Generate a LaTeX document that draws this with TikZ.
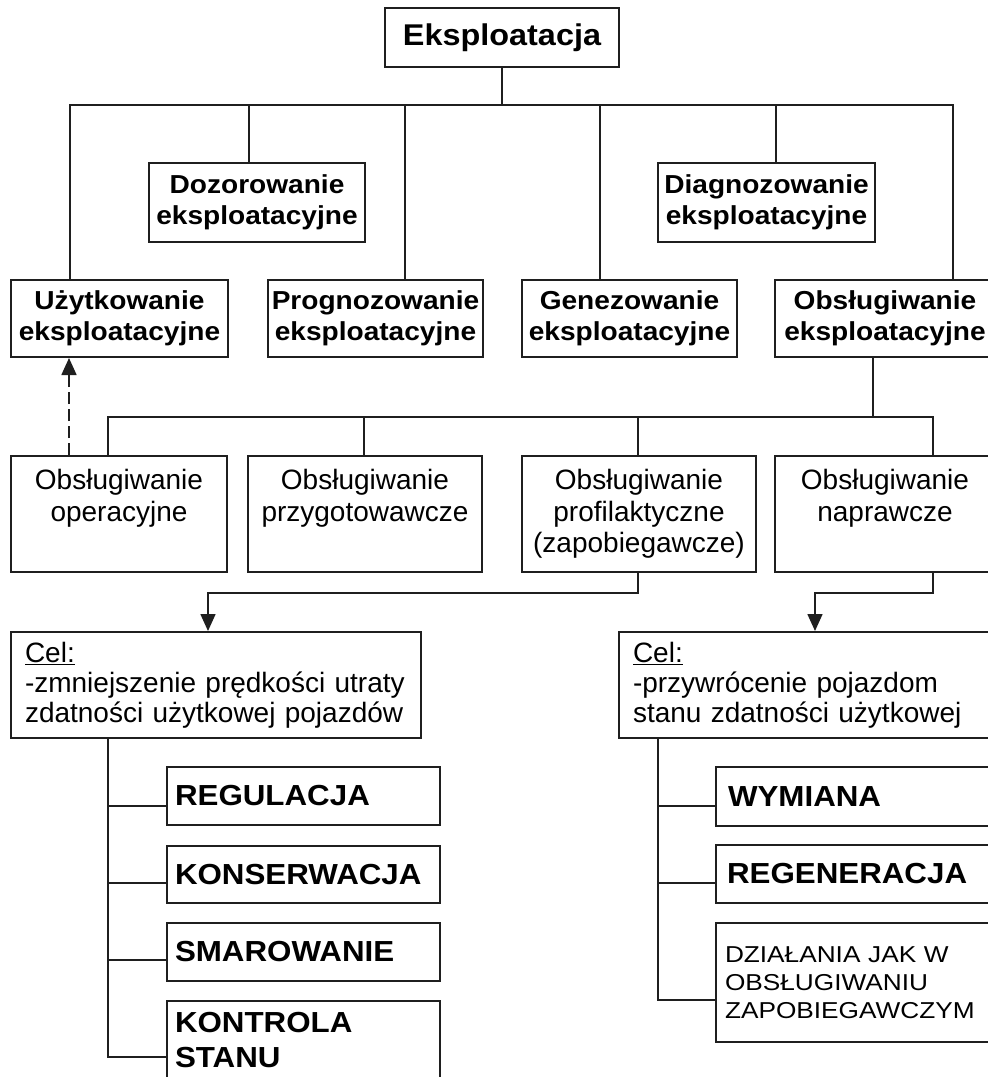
\documentclass[tikz,border=0pt]{standalone}
\usepackage{fontspec}
\setmainfont{Liberation Sans}
\newfontfamily\widefont{Liberation Sans}[FakeStretch=1.08]
\newfontfamily\notefont{Liberation Sans}[FakeStretch=1.14]
\usetikzlibrary{arrows.meta}

\begin{document}
\begin{tikzpicture}[x=1pt,y=-1pt,
  % a box given by its corners: x1:y1:x2:y2
  span/.style args={#1:#2:#3:#4}{at={({(#1+#3)/2},{(#2+#4)/2})},
    minimum width={#3-#1}, minimum height={#4-#2}},
  box/.style={draw=black!88, line width=2pt, inner xsep=2pt, inner ysep=0pt,
    align=center},
  headbox/.style={box, font={\widefont\fontsize{30}{32}\selectfont\bfseries}},
  mainbox/.style={box, font={\widefont\fontsize{26}{30.5}\selectfont\bfseries}},
  kindbox/.style={box, font={\fontsize{28}{31.5}\selectfont}},
  goalbox/.style={box, align=left, inner xsep=14pt,
    font={\fontsize{28}{30}\selectfont}},
  actbox/.style={box, align=left, inner xsep=8pt,
    font={\widefont\fontsize{29}{35}\selectfont\bfseries}},
  notebox/.style={box, align=left, inner xsep=9pt,
    font={\notefont\fontsize{23}{28}\selectfont}},
  conn/.style={draw=black!88, line width=1.6pt, line join=miter},
  arr/.style={conn, -{Triangle[length=17pt,width=15pt]}},
  dasharr/.style={arr, dash pattern=on 12pt off 5pt}]

\fill[white] (0,0) rectangle (988,1077);
\useasboundingbox (0,0) rectangle (988,1077);

% top level
\node[headbox, span=385:8:619:67] (top) {Eksploatacja};

% first level
\node[mainbox, span=149:163:365:242] (doz) {Dozorowanie\\eksploatacyjne};
\node[mainbox, span=658:163:875:242] (diag) {Diagnozowanie\\eksploatacyjne};
\node[mainbox, span=11:280:228:357] (uzy) {Użytkowanie\\eksploatacyjne};
\node[mainbox, span=268:280:483:357] (prog) {Prognozowanie\\eksploatacyjne};
\node[mainbox, span=522:280:737:357] (gen) {Genezowanie\\eksploatacyjne};
\node[mainbox, span=775:280:995:357] (obs) {Obsługiwanie\\eksploatacyjne};

% kinds of servicing
\node[kindbox, span=11:456:227:572] (opr) {Obsługiwanie\\operacyjne\\\phantom{(}};
\node[kindbox, span=248:456:482:572] (prz) {Obsługiwanie\\przygotowawcze\\\phantom{(}};
\node[kindbox, span=522:456:756:572] (pro) {Obsługiwanie\\profilaktyczne\\(zapobiegawcze)};
\node[kindbox, span=775:456:995:572] (nap) {Obsługiwanie\\naprawcze\\\phantom{(}};

% goals
\node[goalbox, span=11:632:421:738, text width=382pt] (celL)
  {\underline{Cel:}\\-zmniejszenie prędkości utraty\\zdatności użytkowej pojazdów};
\node[goalbox, span=619:632:1010:738, text width=363pt] (celR)
  {\underline{Cel:}\\-przywrócenie pojazdom\\stanu zdatności użytkowej};

% preventive actions
\node[actbox, span=167:767:440:825, text width=257pt] (reg) {REGULACJA};
\node[actbox, span=167:846:440:903, text width=257pt] (kons) {KONSERWACJA};
\node[actbox, span=167:923:440:981, text width=257pt] (smar) {SMAROWANIE};
\node[actbox, span=167:1001:440:1079, text width=257pt] (kont) {KONTROLA\\STANU};

% repair actions
\node[actbox, span=716:767:1010:826, inner xsep=12pt, text width=270pt] (wym) {WYMIANA};
\node[actbox, span=716:845:1010:903, inner xsep=11pt, text width=272pt] (regn) {REGENERACJA};
\node[notebox, span=716:923:1010:1042, text width=276pt] (dz)
  {DZIAŁANIA JAK W\\OBSŁUGIWANIU\\ZAPOBIEGAWCZYM};

% first bus
\coordinate (b1L) at (70,105);
\coordinate (b1R) at (953,105);
\coordinate (b1doz) at (249,105);
\coordinate (b1prog) at (405,105);
\coordinate (b1gen) at (600,105);
\coordinate (b1diag) at (776,105);
\draw[conn] (top.south) -- (top.south |- b1L);
\draw[conn] (uzy.north -| b1L) -- (b1L) -- (b1R) -- (b1R |- obs.north);
\draw[conn] (b1doz) -- (b1doz |- doz.north);
\draw[conn] (b1prog) -- (b1prog |- prog.north);
\draw[conn] (b1gen) -- (b1gen |- gen.north);
\draw[conn] (b1diag) -- (b1diag |- diag.north);

% second bus
\coordinate (b2L) at (108,417);
\coordinate (b2R) at (933,417);
\coordinate (b2obs) at (873,417);
\coordinate (b2prz) at (364,417);
\coordinate (b2pro) at (638,417);
\draw[conn] (b2obs |- obs.south) -- (b2obs);
\draw[conn] (opr.north -| b2L) -- (b2L) -- (b2R) -- (b2R |- nap.north);
\draw[conn] (b2prz) -- (b2prz |- prz.north);
\draw[conn] (b2pro) -- (b2pro |- pro.north);

% operational servicing feeds back into use
\coordinate (fb) at (69,400);
\draw[dasharr] (opr.north -| fb) -- (uzy.south -| fb);

% arrows to goals
\coordinate (g1) at (638,593);
\coordinate (g1end) at (208,593);
\draw[arr] (g1 |- pro.south) -- (g1) -- (g1end) -- (g1end |- celL.north);
\coordinate (g2) at (933,593);
\coordinate (g2end) at (815,593);
\draw[arr] (g2 |- nap.south) -- (g2) -- (g2end) -- (g2end |- celR.north);

% left trunk
\coordinate (tl1) at (108,806);
\coordinate (tl2) at (108,883);
\coordinate (tl3) at (108,960);
\coordinate (tl4) at (108,1057);
\draw[conn] (celL.south -| tl4) -- (tl4) -- (tl4 -| kont.west);
\draw[conn] (tl1) -- (tl1 -| reg.west);
\draw[conn] (tl2) -- (tl2 -| kons.west);
\draw[conn] (tl3) -- (tl3 -| smar.west);

% right trunk
\coordinate (tr1) at (658,806);
\coordinate (tr2) at (658,883);
\coordinate (tr3) at (658,1000);
\draw[conn] (celR.south -| tr3) -- (tr3) -- (tr3 -| dz.west);
\draw[conn] (tr1) -- (tr1 -| wym.west);
\draw[conn] (tr2) -- (tr2 -| regn.west);
\end{tikzpicture}
\end{document}
